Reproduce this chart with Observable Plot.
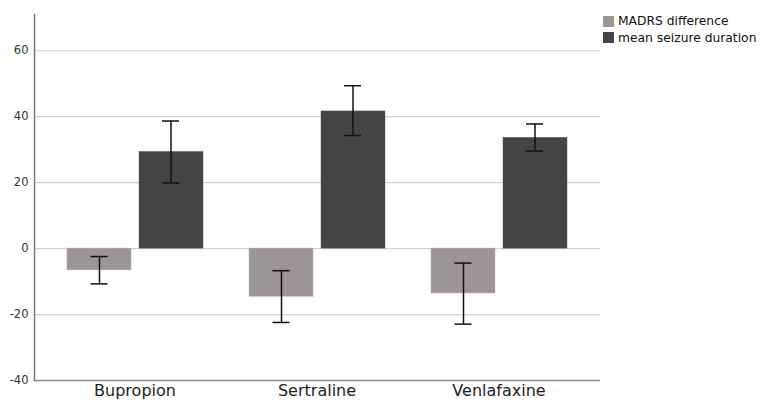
<!DOCTYPE html>
<html>
<head>
<meta charset="utf-8">
<script src="https://cdn.jsdelivr.net/npm/d3@7"></script>
<script src="https://cdn.jsdelivr.net/npm/@observablehq/plot@0.6"></script>
<style>
  html, body { margin: 0; padding: 0; background: #fff; }
  #wrap { position: relative; width: 760px; height: 403px; font-family: "DejaVu Sans", sans-serif; }
  #legend { position: absolute; left: 603px; top: 13px; font-size: 12.3px; color: #111; line-height: 16.5px; }
  #legend .row { display: flex; align-items: center; white-space: nowrap; }
  #legend .sw { width: 11px; height: 11px; margin-right: 4px; display: inline-block; }
</style>
</head>
<body>
<div id="wrap"><div id="legend"></div></div>
<script>
const drugs = ["Bupropion", "Sertraline", "Venlafaxine"];
const seriesNames = ["MADRS difference", "mean seizure duration"];
const seriesColors = ["#9b9595", "#444446"];
const madrsMean = [-6.6, -14.6, -13.6];
const madrsLow = [-10.7, -22.4, -22.9];
const madrsHigh = [-2.4, -6.7, -4.4];
const seizureMean = [29.3, 41.6, 33.6];
const seizureLow = [19.9, 34.3, 29.6];
const seizureHigh = [38.7, 49.4, 37.8];
const yTicks = [-40, -20, 0, 20, 40, 60];
const gridTicks = [-20, 0, 20, 40, 60];

const madrs = drugs.map((d, i) => ({drug: d, series: seriesNames[0], value: madrsMean[i], lo: madrsLow[i], hi: madrsHigh[i]}));
const seizure = drugs.map((d, i) => ({drug: d, series: seriesNames[1], value: seizureMean[i], lo: seizureLow[i], hi: seizureHigh[i]}));

const errMarks = (data, dx) => [
  Plot.ruleX(data, {x: "drug", y1: "lo", y2: "hi", dx, stroke: "#111", strokeWidth: 1.5}),
  Plot.tickY(data, {x: "drug", y: "lo", dx, inset: 74, stroke: "#111", strokeWidth: 1.5}),
  Plot.tickY(data, {x: "drug", y: "hi", dx, inset: 74, stroke: "#111", strokeWidth: 1.5})
];

const chart = Plot.plot({
  width: 760,
  height: 403,
  marginLeft: 34,
  marginRight: 160,
  marginTop: 14,
  marginBottom: 23,
  style: {fontFamily: "DejaVu Sans, sans-serif", background: "transparent"},
  x: {domain: drugs, paddingInner: 0.093, paddingOuter: 0.093, label: null},
  y: {domain: [-40, 71], label: null},
  color: {domain: seriesNames, range: seriesColors},
  marks: [
    Plot.ruleY(gridTicks, {stroke: "#d2d2d2", strokeWidth: 1.2}),
    Plot.barY(madrs, {x: "drug", y: "value", fill: "series", insetLeft: 15, insetRight: 86, stroke: "#b4afaf", strokeWidth: 0.5}),
    Plot.barY(seizure, {x: "drug", y: "value", fill: "series", insetLeft: 87, insetRight: 14, stroke: "#5a5a5c", strokeWidth: 0.5}),
    ...errMarks(madrs, -35.5),
    ...errMarks(seizure, 36),
    Plot.ruleY([-40], {stroke: "#8a8a8a", strokeWidth: 1.5}),
    Plot.frame({anchor: "left", stroke: "#777", strokeWidth: 1.5}),
    Plot.axisY({ticks: yTicks, tickSize: 0, tickPadding: 6, fontSize: 11.5, fill: "#333", tickFormat: d => String(d), label: null}),
    Plot.axisX({tickSize: 0, tickPadding: 4, fontSize: 16, fill: "#222", label: null})
  ]
});
chart.style.position = "absolute";
chart.style.left = "0";
chart.style.top = "0";
document.getElementById("wrap").appendChild(chart);

const legend = document.getElementById("legend");
seriesNames.forEach((name, i) => {
  const row = document.createElement("div");
  row.className = "row";
  const sw = document.createElement("span");
  sw.className = "sw";
  sw.style.background = seriesColors[i];
  row.appendChild(sw);
  row.appendChild(document.createTextNode(name));
  legend.appendChild(row);
});
</script>
</body>
</html>
